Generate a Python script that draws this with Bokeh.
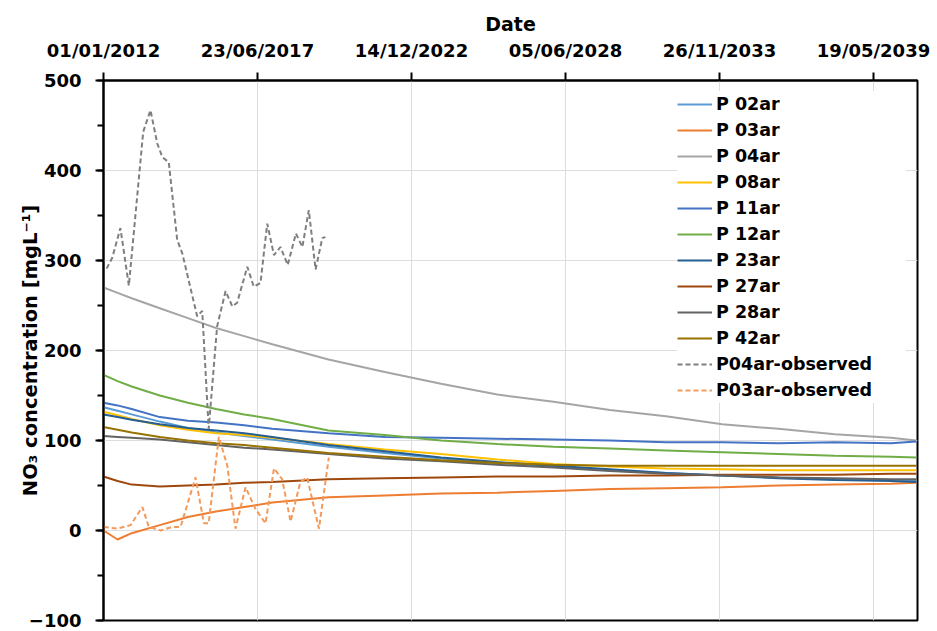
from datetime import datetime, timedelta
from bokeh.plotting import figure
from bokeh.models import FixedTicker, SingleIntervalTicker, DatetimeTickFormatter, Range1d
from bokeh.embed import file_html
from bokeh.resources import INLINE

# ---------------- data ----------------
tick_labels = ["01/01/2012", "23/06/2017", "14/12/2022", "05/06/2028", "26/11/2033", "19/05/2039"]
x_start = "01/01/2012"
x_end = "10/12/2040"
y_min, y_max = -100, 500

series_names = ["P 02ar", "P 03ar", "P 04ar", "P 08ar", "P 11ar", "P 12ar",
                "P 23ar", "P 27ar", "P 28ar", "P 42ar"]
series_colors = ["#5B9BD5", "#ED7D31", "#A5A5A5", "#FFC000", "#4472C4", "#70AD47",
                 "#255E91", "#9E480E", "#636363", "#997300"]

sim_years = [2012.0, 2012.5, 2013, 2014, 2015, 2016, 2017, 2018, 2020, 2022,
             2024, 2026, 2028, 2030, 2032, 2034, 2036, 2038, 2040, 2040.9]
p02 = [137, 133, 129, 121, 114, 109, 105, 101, 93, 86, 80, 75, 71, 67, 64, 61, 59, 57, 56, 55]
p03 = [0, -10, -3, 6, 15, 21, 26, 31, 37, 39, 41, 42, 44, 46, 47, 48, 50, 51, 52, 53]
p04 = [270, 264, 258, 247, 236, 225, 216, 207, 190, 176, 163, 151, 143, 134, 127, 118, 113, 107, 103, 100]
p08 = [132, 128, 124, 117, 112, 108, 106, 103, 96, 90, 85, 79, 74, 71, 69, 68, 67, 67, 67, 67]
p11 = [142, 139, 135, 126, 122, 120, 117, 113, 108, 104, 103, 102, 101, 100, 98, 98, 97, 98, 97, 99]
p12 = [173, 166, 160, 150, 142, 135, 129, 124, 111, 106, 100, 96, 93, 91, 89, 87, 85, 83, 82, 81]
p23 = [129, 126, 123, 118, 114, 111, 108, 104, 95, 88, 81, 76, 72, 68, 64, 61, 58, 56, 55, 54]
p27 = [60, 55, 51, 49, 50, 51, 53, 54, 57, 58, 59, 60, 60, 61, 61, 62, 62, 62, 63, 63]
p28 = [105, 104, 103, 101, 98, 95, 92, 90, 85, 80, 77, 73, 70, 66, 63, 61, 59, 58, 57, 57]
p42 = [115, 112, 109, 104, 100, 97, 95, 92, 86, 82, 78, 75, 73, 72, 72, 72, 72, 72, 72, 72]
sim_values = [p02, p03, p04, p08, p11, p12, p23, p27, p28, p42]

obs04_years = [2012.11, 2012.31, 2012.60, 2012.90, 2013.41, 2013.67, 2013.91, 2014.09,
               2014.32, 2014.62, 2014.80, 2015.33, 2015.51, 2015.74, 2016.04, 2016.34,
               2016.58, 2016.75, 2017.11, 2017.34, 2017.58, 2017.82, 2018.06, 2018.29,
               2018.55, 2018.84, 2019.07, 2019.30, 2019.54, 2019.78, 2019.89]
obs04_values = [291, 303, 336, 272, 443, 467, 430, 415, 409, 323, 308, 238, 244, 113,
                227, 266, 249, 253, 293, 271, 275, 341, 306, 315, 295, 330, 315, 356,
                290, 325, 326]

obs03_years = [2012.01, 2012.49, 2012.96, 2013.38, 2013.61, 2014.03, 2014.44, 2014.74,
               2015.27, 2015.57, 2015.74, 2016.10, 2016.40, 2016.69, 2017.05, 2017.40,
               2017.76, 2018.06, 2018.35, 2018.65, 2019.00, 2019.24, 2019.66, 2020.01]
obs03_values = [4, 2, 6, 26, 4, 0, 4, 4, 59, 8, 8, 104, 72, 2, 48, 24, 8, 69, 57, 10,
                54, 59, 2, 81]

# ---------------- helpers ----------------
EPOCH = datetime(1970, 1, 1)


def dec_year(y):
    yi = int(y)
    start = datetime(yi, 1, 1)
    length = (datetime(yi + 1, 1, 1) - start).days
    return start + timedelta(days=(y - yi) * length)


def parse(s):
    return datetime.strptime(s, "%d/%m/%Y")


def ms(dt):
    return (dt - EPOCH).total_seconds() * 1000.0


FONT = "DejaVu Sans"

p = figure(width=937, height=631, x_axis_type="datetime", x_axis_location="above",
           output_backend="svg", toolbar_location=None,
           x_range=Range1d(parse(x_start), parse(x_end)),
           y_range=Range1d(y_min, y_max),
           min_border_left=103, min_border_right=20, min_border_top=80, min_border_bottom=11)

p.background_fill_color = "white"
p.border_fill_color = "white"
p.outline_line_color = "black"
p.outline_line_width = 2

for name, color, vals in zip(series_names, series_colors, sim_values):
    p.line([dec_year(y) for y in sim_years], vals, line_color=color, line_width=2,
           legend_label=name)

p.line([dec_year(y) for y in obs04_years], obs04_values, line_color="#7F7F7F",
       line_width=2, line_dash="5 3", legend_label="P04ar-observed")
p.line([dec_year(y) for y in obs03_years], obs03_values, line_color="#F29A5C",
       line_width=2, line_dash="5 3", legend_label="P03ar-observed")

# x axis (top)
xa = p.xaxis[0]
xa.ticker = FixedTicker(ticks=[ms(parse(t)) for t in tick_labels])
fmt = "%d/%m/%Y"
xa.formatter = DatetimeTickFormatter(microseconds=fmt, milliseconds=fmt, seconds=fmt,
                                     minsec=fmt, minutes=fmt, hourmin=fmt, hours=fmt,
                                     days=fmt, months=fmt, years=fmt)
xa.axis_label = "Date"
xa.axis_label_text_font = FONT
xa.axis_label_text_font_style = "bold"
xa.axis_label_text_font_size = "19px"
xa.axis_label_text_color = "black"
xa.axis_label_standoff = 2
xa.major_label_text_font = FONT
xa.major_label_text_font_style = "bold"
xa.major_label_text_font_size = "18px"
xa.major_label_text_color = "black"
xa.major_label_standoff = 12
xa.axis_line_color = "black"
xa.axis_line_width = 2
xa.major_tick_line_color = "black"
xa.major_tick_line_width = 2
xa.major_tick_out = 8
xa.major_tick_in = 0
xa.minor_tick_line_color = None

# y axis
ya = p.yaxis[0]
ya.ticker = SingleIntervalTicker(interval=100, num_minor_ticks=2)
ya.axis_label = "NO\u2083 concentration [mgL\u207B\u00B9]"
ya.axis_label_text_font = FONT
ya.axis_label_text_font_style = "bold"
ya.axis_label_text_font_size = "19.5px"
ya.axis_label_text_color = "black"
ya.axis_label_standoff = -16
ya.major_label_text_font = FONT
ya.major_label_text_font_style = "bold"
ya.major_label_text_font_size = "18px"
ya.major_label_text_color = "black"
ya.major_label_standoff = 14
ya.axis_line_color = "black"
ya.axis_line_width = 2
ya.major_tick_line_color = "black"
ya.major_tick_line_width = 2
ya.major_tick_out = 8
ya.major_tick_in = 0
ya.minor_tick_line_color = "black"
ya.minor_tick_line_width = 2
ya.minor_tick_out = 6
ya.minor_tick_in = 0

p.xgrid.grid_line_color = "#DDDDDD"
p.ygrid.grid_line_color = "#DDDDDD"
p.xgrid.grid_line_width = 1
p.ygrid.grid_line_width = 1

lg = p.legend[0]
lg.location = (574, 217)
lg.margin = 0
lg.padding = 5
lg.spacing = 0
lg.glyph_width = 35
lg.glyph_height = 26
lg.label_height = 26
lg.label_width = 190
lg.label_standoff = 4
lg.label_text_font = FONT
lg.label_text_font_style = "bold"
lg.label_text_font_size = "17.5px"
lg.label_text_color = "black"
lg.border_line_color = None
lg.background_fill_color = "white"
lg.background_fill_alpha = 1.0

open("out.html", "w").write(file_html(p, INLINE))
